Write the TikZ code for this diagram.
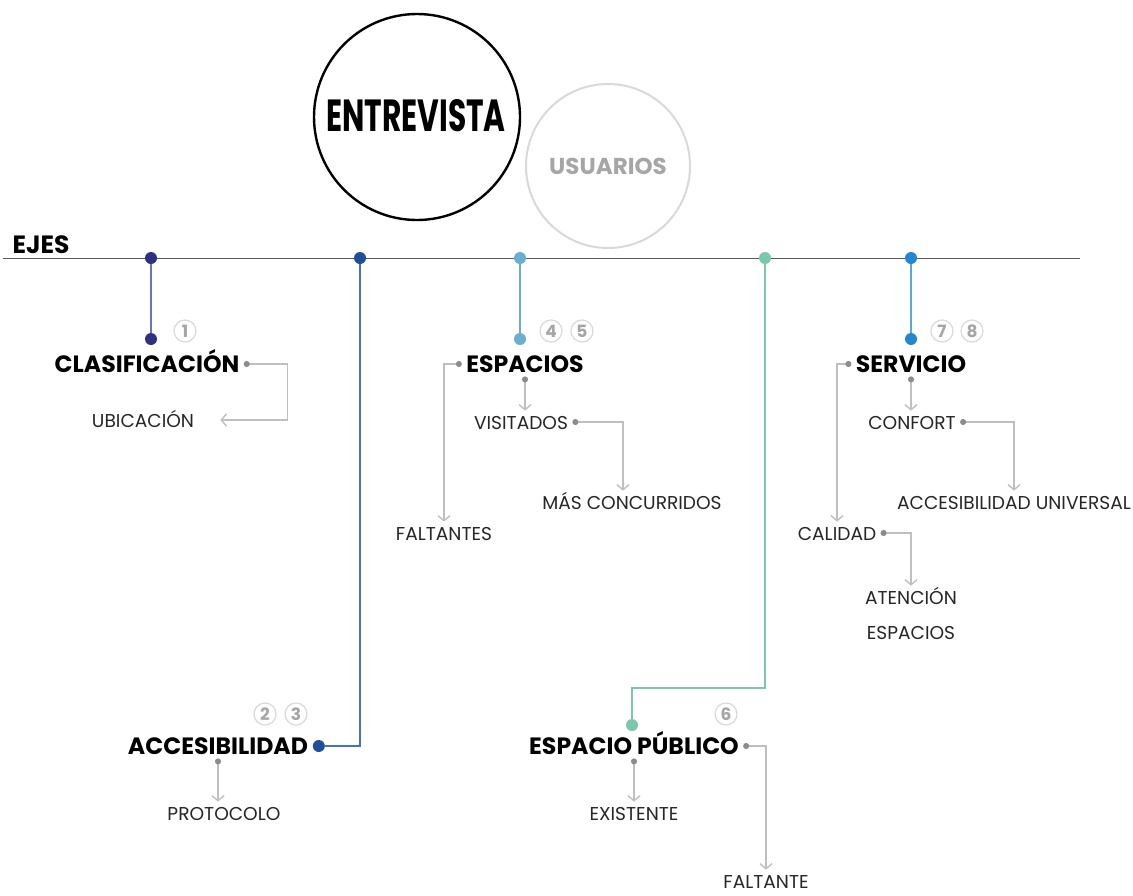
\documentclass[tikz,border=0pt]{standalone}
\usepackage{fontspec}
\setmainfont{Poppins}
\usetikzlibrary{arrows.meta,positioning}
\definecolor{EjeGris}{HTML}{595959}
\definecolor{LinkGris}{HTML}{BFBFBF}
\definecolor{PuntoGris}{HTML}{8C8C8C}
\definecolor{NumGris}{HTML}{A6A6A6}
\definecolor{AroGris}{HTML}{D9D9D9}
\definecolor{TextoGris}{HTML}{262626}
\definecolor{EjeUno}{HTML}{2E3182}
\definecolor{EjeUnoL}{HTML}{6D72B8}
\definecolor{EjeDos}{HTML}{1F4E9B}
\definecolor{EjeDosL}{HTML}{4472C4}
\definecolor{EjeTres}{HTML}{6AAFCF}
\definecolor{EjeCuatro}{HTML}{7BC8AD}
\definecolor{EjeCinco}{HTML}{2387D0}
\definecolor{EjeCincoL}{HTML}{5BA8E0}
\tikzset{>=Stealth,head/.style={font=\bfseries\fontsize{11.8}{13}\selectfont,
 inner sep=2pt,text height=8pt,text depth=0pt},item/.style={text=TextoGris,
 font=\fontsize{9.3}{11}\selectfont,inner sep=2pt,text height=7pt,text depth=0pt},
 punto/.style={circle,fill=#1,inner sep=0pt,minimum size=6pt},
 num/.style={circle,draw=AroGris,line width=.6pt,text=NumGris,inner sep=0pt,
 font=\bfseries\fontsize{8.5}{9}\selectfont,minimum size=11pt},
 link/.style={draw=LinkGris,line width=.7pt,
 {Circle[length=3pt,width=3pt,color=PuntoGris]}-{Straight Barb[length=2.5pt,width=6pt]}},
 rama/.style={draw=#1,line width=.8pt}}

\begin{document}
\begin{tikzpicture}[x=.5pt,y=-.5pt]
\fill[white] (0,0) rectangle (1133,895);
\useasboundingbox (0,0) rectangle (1133,895);
% circulos de titulo
\node[circle,draw=black,line width=1.2pt,minimum size=103pt,inner sep=0pt] (entre) at (417,117) {};
\node[font=\bfseries\fontsize{22.5}{24}\selectfont] at (416,116) {\scalebox{.66}[1]{ENTREVISTA}};
\node[circle,draw=AroGris,line width=1pt,minimum size=82pt,inner sep=0pt,text=NumGris,
 font=\bfseries\fontsize{11.5}{13}\selectfont] (usu) at (608,166) {USUARIOS};
% eje
\node[head,font=\bfseries\fontsize{12.5}{14}\selectfont,text height=8.5pt] (ejes) at (41,245) {EJES};
\coordinate (ejeIni) at (3,258);
\coordinate (ejeFin) at (1080,258);
\draw[EjeGris,line width=.5pt] (ejeIni)--(ejeFin);
\node[punto=EjeUno] (a1) at (151,258){};
\node[punto=EjeDos] (a2) at (360,258){};
\node[punto=EjeTres] (a3) at (520,258){};
\node[punto=EjeCuatro] (a4) at (765,258){};
\node[punto=EjeCinco] (a5) at (911,258){};
% titulos
\node[head] (clas) at (147,364){CLASIFICACIÓN};
\node[head] (esp) at (525,364){ESPACIOS};
\node[head] (serv) at (911,364){SERVICIO};
\node[head] (acc) at (218,746){ACCESIBILIDAD};
\node[head] (epub) at (634,746){ESPACIO PÚBLICO};
\node[punto=EjeUno] (d1) at (151,339){};
\node[punto=EjeDos,right=0pt of acc] (d2){};
\node[punto=EjeTres] (d3) at (520,339){};
\node[punto=EjeCuatro] (d4) at (632,725){};
\node[punto=EjeCinco] (d5) at (911,339){};
\draw[rama=EjeUnoL] (a1)--(d1);
\draw[rama=EjeDosL] (a2)|-(d2);
\draw[rama=EjeTres] (a3)--(d3);
\draw[rama=EjeCuatro] (a4)--++(0,430)-|(d4);
\draw[rama=EjeCincoL] (a5)--(d5);
\foreach \x/\y/\n in {185/331/1,265/714/2,296/714/3,551/331/4,582/331/5,
 726/714/6,942/331/7,972/331/8}
 \node[num] (n\n) at (\x,\y){\n};
% subtemas
\node[item] (ubic) at (143,420){UBICACIÓN};
\node[item] (visit) at (521,422){VISITADOS};
\node[item] (mas) at (632,502){MÁS CONCURRIDOS};
\node[item] (falt) at (444,533){FALTANTES};
\node[item] (conf) at (912,422){CONFORT};
\node[item] (accu) at (1014,502){ACCESIBILIDAD UNIVERSAL};
\node[item] (cal) at (837,533){CALIDAD};
\node[item] (aten) at (911,597){ATENCIÓN};
\node[item] (espac) at (911,632){ESPACIOS};
\node[item] (prot) at (224,813){PROTOCOLO};
\node[item] (exis) at (634,813){EXISTENTE};
\node[item] (falte) at (766,881){FALTANTE};
\draw[link] (clas.east)--++(44,0)|-([xshift=11pt]ubic.east);
\draw[link] (esp.west)-|(falt.north);
\draw[link] (esp.south)--(esp.south|-visit.north);
\draw[link] (visit.east)-|([xshift=-4.5pt]mas.north);
\draw[link] (serv.west)-|(cal.north);
\draw[link] (serv.south)--(serv.south|-conf.north);
\draw[link] (conf.east)-|(accu.north);
\draw[link] (cal.east)-|(aten.north);
\draw[link] (acc.south)--(acc.south|-prot.north);
\draw[link] (epub.south)--(epub.south|-exis.north);
\draw[link] (epub.east)-|(falte.north);
\end{tikzpicture}
\end{document}
